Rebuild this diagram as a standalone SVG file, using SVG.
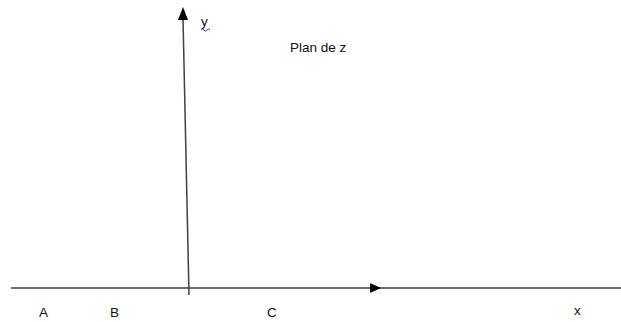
<svg xmlns="http://www.w3.org/2000/svg" width="621" height="322" viewBox="0 0 621 322">
<style>
.ax{stroke:#404040;stroke-width:1.5;fill:none}
.ah{fill:#000}
.t{font-family:"Liberation Sans",Arial,sans-serif;font-size:13.5px;fill:#111}
</style>
<rect width="621" height="322" fill="#fff"/>
<g id="connectors">
<line class="ax" x1="11" y1="288" x2="621" y2="288"/>
<polygon class="ah" points="370,283 381,288 370,293"/>
<line class="ax" x1="189" y1="295" x2="183" y2="18"/>
<polygon class="ah" points="178,20 183,7 188,20"/>
</g>
<g id="label-y">
<text class="t" x="201" y="26">y</text>
<path d="M201,30 q1.5,-2 3,0 t3,0 t3,0" stroke="#2040e0" stroke-width="1" fill="none"/>
</g>
<g id="title"><text class="t" x="290" y="52">Plan de z</text></g>
<g id="label-A"><text class="t" x="39" y="317">A</text></g>
<g id="label-B"><text class="t" x="110" y="317">B</text></g>
<g id="label-C"><text class="t" x="267" y="317">C</text></g>
<g id="label-x"><text class="t" x="574" y="315">x</text></g>
</svg>
